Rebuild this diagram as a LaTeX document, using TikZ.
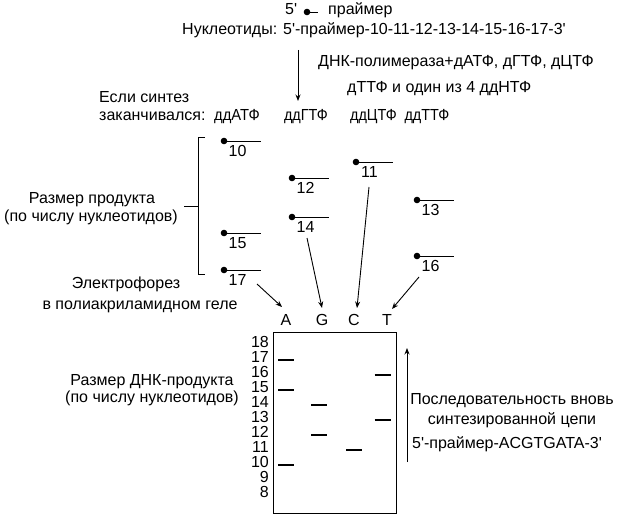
\documentclass[tikz,border=0pt]{standalone}
\usepackage{fontspec}
\setmainfont{Liberation Sans}[Ligatures=TeXOff]
\usetikzlibrary{arrows.meta}
\begin{document}
\begin{tikzpicture}[x=1pt,y=-1pt,
  font=\fontsize{16}{19}\selectfont,
  lt/.style={inner sep=0pt, anchor=mid west},
  ct/.style={inner sep=0pt, anchor=mid},
  rt/.style={inner sep=0pt, anchor=mid east},
  thin/.style={line width=0.9pt},
  arr/.style={line width=0.9pt,-{Stealth[length=6.5pt,width=5pt]}},
  band/.style={line width=2.2pt}
]
\useasboundingbox (0,0) rectangle (620,521);
% --- top
\node[lt] (p5) at (285,12) {5'};
\coordinate (pd) at (307,12);
\coordinate (pe) at (318,12);
\draw[thin] (pd) -- (pe);
\fill (pd) circle[radius=3.3pt];
\node[lt] (pl) at (328,12) {праймер};
\node[lt] (nuc) at (182,32) {Нуклеотиды:};
\node[lt] (seq) at (283,32) {5'-праймер-10-11-12-13-14-15-16-17-3'};
\coordinate (va) at (298,50);
\coordinate (vb) at (298,101);
\draw[arr] (va) -- (vb);
\node[lt] (poly1) at (318,64) {ДНК-полимераза+дАТФ, дГТФ, дЦТФ};
\node[lt] (poly2) at (347,90) {дТТФ и один из 4 ддНТФ};
\node[lt] (esl) at (99,100) {Если синтез};
\node[lt] (zak) at (99,118) {заканчивался:};
\node[ct] (hA) at (237,118) {\scalebox{0.92}[1]{ддАТФ}};
\node[ct] (hG) at (306,118) {\scalebox{0.9}[1]{ддГТФ}};
\node[ct] (hC) at (373.5,118) {\scalebox{0.9}[1]{ддЦТФ}};
\node[ct] (hT) at (427,118) {\scalebox{0.9}[1]{ддТТФ}};
% --- bracket
\coordinate (bt) at (198,137);
\coordinate (btr) at (205,137);
\coordinate (bb) at (198,274);
\coordinate (bbr) at (205,274);
\coordinate (bm) at (198,206);
\coordinate (bml) at (184,206);
\draw[thin] (btr) -- (bt) -- (bb) -- (bbr);
\draw[thin] (bml) -- (bm);
\node[ct] (rp1) at (92,201) {Размер продукта};
\node[ct] (rp2) at (91,219) {(по числу нуклеотидов)};
% --- products
\foreach \nm/\x/\y in {10/224/141, 12/292/178, 11/356/162, 13/417/200,
                       14/292/217, 15/224/233, 16/417/256, 17/224/270}{
  \coordinate (d\nm) at (\x,\y);
  \coordinate (e\nm) at (\x+37,\y);
  \draw[thin] (d\nm) -- (e\nm);
  \fill (d\nm) circle[radius=3.3pt];
  \node[ct] (l\nm) at (\x+13.5,\y+12.5) {\nm};
}
% --- electrophoresis
\node[ct] (el1) at (126,286) {Электрофорез};
\node[ct] (el2) at (140,307) {в полиакриламидном геле};
\coordinate (s17) at (257,284); \coordinate (t17) at (282,307);
\coordinate (s14) at (307,238); \coordinate (t14) at (322,308);
\coordinate (s11) at (369,187); \coordinate (t11) at (357,308);
\coordinate (s16) at (419,277); \coordinate (t16) at (392,309);
\draw[arr] (s17) -- (t17);
\draw[arr] (s14) -- (t14);
\draw[arr] (s11) -- (t11);
\draw[arr] (s16) -- (t16);
% --- gel
\node[ct] (gA) at (286,323) {A};
\node[ct] (gG) at (322,323) {G};
\node[ct] (gC) at (354,323) {C};
\node[ct] (gT) at (387,323) {T};
\node[draw, line width=1pt, inner sep=0pt, minimum width=123pt, minimum height=181pt] (gel) at (334.5,422.5) {};
\foreach \n in {8,...,18}{
  \node[rt] (n\n) at (269,{345+(18-\n)*15}) {\n};
}
\foreach \x/\n in {286/17, 286/15, 286/10, 319/14, 319/12, 354/11, 382.5/16, 382.5/13}{
  \draw[band] ({\x-8},{345+(18-\n)*15}) -- ({\x+8},{345+(18-\n)*15});
}
\node[ct] (dp1) at (152,383) {Размер ДНК-продукта};
\node[ct] (dp2) at (152,400) {(по числу нуклеотидов)};
\coordinate (ra) at (407,462);
\coordinate (rb) at (407,348);
\draw[arr] (ra) -- (rb);
\node[ct] (sq1) at (512,402) {Последовательность вновь};
\node[ct] (sq2) at (512,422) {синтезированной цепи};
\node[ct] (sq3) at (507,446) {5'-праймер-ACGTGATA-3'};
\end{tikzpicture}
\end{document}
